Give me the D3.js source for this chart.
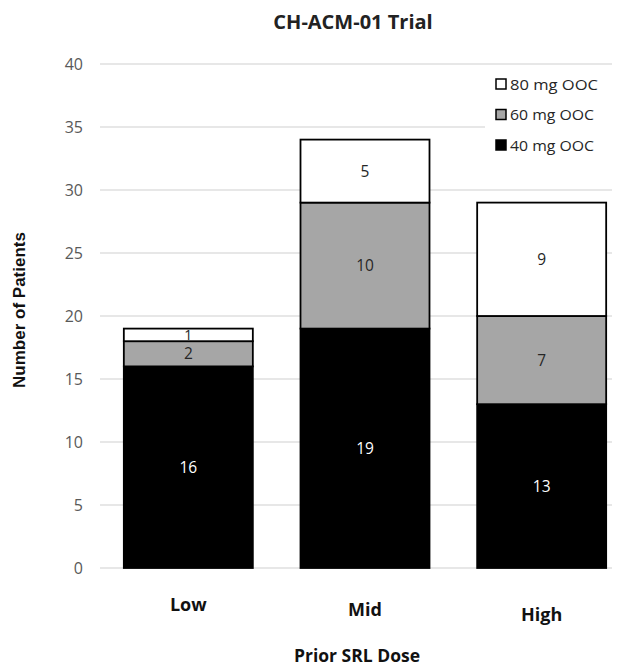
<!DOCTYPE html>
<html><head><meta charset="utf-8">
<script src="https://cdn.jsdelivr.net/npm/d3@7"></script>
<style>body{margin:0;background:#fff;}svg{display:block;font-family:"Open Sans",Lato,sans-serif;}</style>
</head><body>
<svg id="c" width="625" height="668"></svg>
<script>
const categories = ["Low","Mid","High"];
const seriesNames = ["40 mg OOC","60 mg OOC","80  mg OOC"];
const s40 = [16,19,13];
const s60 = [2,10,7];
const s80 = [1,5,9];
const yTicks = [0,5,10,15,20,25,30,35,40];
const colors = ["#000000","#a6a6a6","#ffffff"];
const labelColors = ["#ffffff","#262626","#262626"];
const catLabelOffsets = [0,5,10];

const svg = d3.select("#c");
const x = d3.scaleBand().domain(categories).range([100,630]).paddingInner(0.36).paddingOuter(0.18);
const y = d3.scaleLinear().domain([0,40]).range([568,64]);

svg.append("g").selectAll("line").data(yTicks).join("line")
  .attr("x1",100).attr("x2",612).attr("y1",d=>y(d)).attr("y2",d=>y(d))
  .attr("stroke","#d0d0d0").attr("stroke-width",1.2);
svg.append("g").selectAll("text").data(yTicks).join("text")
  .attr("x",83).attr("y",d=>y(d)+5.5).attr("text-anchor","end")
  .attr("font-size",16).attr("fill","#595959").text(d=>d);

const data = categories.map((c,i)=>({cat:c,vals:[s40[i],s60[i],s80[i]]}));
const stack = d3.stack().keys([0,1,2]).value((d,k)=>d.vals[k])(data);

svg.append("rect").attr("x",485).attr("y",70).attr("width",127).attr("height",92).attr("fill","#fff");

const bw = 129;
stack.forEach((layer,k)=>{
  const g = svg.append("g");
  layer.forEach((seg,i)=>{
    const cx = x(categories[i]) + x.bandwidth()/2;
    const h = y(seg[0])-y(seg[1]);
    g.append("rect").attr("x",cx-bw/2).attr("width",bw)
      .attr("y",y(seg[1])).attr("height",h)
      .attr("fill",colors[k]).attr("stroke","#000").attr("stroke-width",1.8);
    g.append("text").attr("x",cx).attr("y",(y(seg[0])+y(seg[1]))/2+5.5)
      .attr("text-anchor","middle").attr("font-size",h<14?14:15.5).attr("fill",labelColors[k])
      .text(seg[1]-seg[0]);
  });
});

svg.append("g").selectAll("text").data(categories).join("text")
  .attr("x",d=>x(d)+x.bandwidth()/2).attr("y",(d,i)=>611+catLabelOffsets[i])
  .attr("text-anchor","middle").attr("font-size",18).attr("font-weight","bold").attr("fill","#111")
  .text(d=>d);

svg.append("text").attr("x",353).attr("y",29).attr("text-anchor","middle")
  .attr("font-size",20).attr("font-weight","bold").attr("fill","#222").text("CH-ACM-01 Trial");
svg.append("text").attr("x",357).attr("y",662).attr("text-anchor","middle")
  .attr("font-size",17.5).attr("font-weight","bold").attr("fill","#111").text("Prior SRL Dose");
svg.append("text").attr("transform","translate(25,310) rotate(-90)").attr("text-anchor","middle")
  .attr("font-family","'Liberation Sans',Arial,sans-serif")
  .attr("font-size",17).attr("font-weight","bold").attr("fill","#111").text("Number of Patients");

const legOrder = [2,1,0];
const lg = svg.append("g").selectAll("g").data(legOrder).join("g")
  .attr("transform",(d,i)=>`translate(496,${84+i*30.5})`);
lg.append("rect").attr("x",0).attr("y",-5).attr("width",10).attr("height",10)
  .attr("fill",d=>colors[d]).attr("stroke","#000").attr("stroke-width",1.5);
lg.append("text").attr("x",14).attr("y",5.5).attr("font-size",15).attr("fill","#262626")
  .attr("textLength",d=>d===2?88:84).attr("lengthAdjust","spacingAndGlyphs")
  .text(d=>seriesNames[d]);
</script>
</body></html>
